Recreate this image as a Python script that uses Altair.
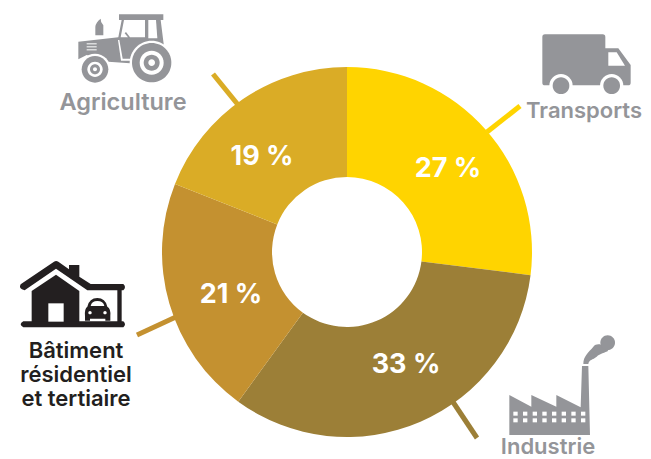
import altair as alt
import pandas as pd

categories = ["Transports", "Industrie", "Bâtiment résidentiel et tertiaire", "Agriculture"]
shares = [27, 33, 21, 19]
share_labels = ["27 %", "33 %", "21 %", "19 %"]
slice_colors = ["#FFD400", "#9C7F37", "#C49130", "#DAAC26"]

GREY = "#949599"
DARK = "#231F20"
WHITE = "#FFFFFF"
FONT = "Inter"

W, H = 635, 451
xs = alt.Scale(domain=[8, 8 + W], nice=False, zero=False)
ys = alt.Scale(domain=[8 + H, 8], nice=False, zero=False)
X = alt.X("x:Q", scale=xs, axis=None)
Y = alt.Y("y:Q", scale=ys, axis=None)


def disc(cx, cy, r):
    return f"M{cx-r} {cy}A{r} {r} 0 1 0 {cx+r} {cy}A{r} {r} 0 1 0 {cx-r} {cy}Z"


def box(x0, y0, x1, y1):
    return f"M{x0} {y0}L{x1} {y0}L{x1} {y1}L{x0} {y1}Z"


# Pictograms: (crop origin x, y, [(fill, path), ...]); paths are in 3x pixels of that origin
tractor = (50, 0, [
    (GREY, "M207 43L340 43L340 60L332 60L341 132L341 165L240 190L175 185L110 165L85 178L85 125L205 112L215 60L207 60Z"),
    (GREY, "M136 106L136 80Q138 66 152 56Q151 66 160 76L160 106Z"),
    (WHITE, "M222 60L285 60L285 112L240 112L228 96L224 100L234 112L212 112Z"),
    (WHITE, "M295 60L318 60L322 115L295 115Z"),
    (WHITE, "M204 120L208 120L218 176L246 176L246 182L213 182Z"),
    (WHITE, box(110, 130, 140, 133)), (WHITE, box(110, 139, 140, 142)), (WHITE, box(110, 148, 140, 151)),
    (WHITE, disc(135, 208, 47)), (WHITE, disc(305, 188, 66)),
    (GREY, disc(135, 208, 40)), (WHITE, disc(135, 208, 23)), (GREY, disc(135, 208, 15)), (WHITE, disc(135, 208, 6)),
    (GREY, disc(305, 188, 59)), (WHITE, disc(305, 188, 36)), (GREY, disc(305, 188, 24)), (WHITE, disc(305, 188, 10)),
])
truck = (500, 20, [
    (GREY, "M135 43L308 43Q316 43 316 51L316 85L355 85L392 135L392 188Q392 196 384 196L135 196Q127 196 127 188L127 51Q127 43 135 43Z"),
    (WHITE, "M325 97L350 97L375 137L325 137Z"),
    (WHITE, disc(183, 197, 35)), (WHITE, disc(335, 197, 35)),
    (GREY, disc(183, 197, 25)), (GREY, disc(335, 197, 25)),
])
house = (0, 250, [
    (DARK, "M62 103L162 35Q168 31 175 35L207 58L207 45L238 45L238 80L272 102L370 102Q380 111 370 121L262 121L168 56L74 121Q54 116 62 103Z"),
    (DARK, "M95 123L168 74L238 123L238 218L95 218Z"),
    (DARK, box(352, 118, 365, 218)),
    (DARK, "M70 214L370 214Q380 223 370 232L70 232Q54 223 70 214Z"),
    (WHITE, box(145, 160, 191, 215)),
    (DARK, "M262 170Q268 144 292 144Q316 144 322 170Q333 176 331 198L331 212L316 212L316 206L270 206L270 212L255 212L255 198Q253 176 262 170Z"),
    (WHITE, "M272 168Q275 153 292 153Q310 153 313 168Z"),
    (WHITE, disc(270, 188, 5)), (WHITE, disc(315, 188, 5)),
])
windows = [(WHITE, box(cx, cy, cx + 13, cy + 12))
           for cx in (220, 249, 278, 307, 336, 365, 394, 423) for cy in (245, 265)]
factory = (440, 330, [
    (GREY, "M208 195L274 230L274 195L349 230L349 195L422 232L426 108L445 108L450 315L208 315Z"),
    (GREY, "M430 102C430 78 445 68 460 50C468 40 482 42 490 48L505 62C495 68 480 70 470 80C458 90 447 88 445 102Z"),
    (GREY, disc(503, 38, 22)),
] + windows)

icon_rows = []
for ox, oy, parts in (tractor, truck, house, factory):
    for fill, path in parts:
        icon_rows.append({"x": ox, "y": oy, "fill": fill, "path": path})
icons = pd.DataFrame(icon_rows)

slices = pd.DataFrame({"cat": categories, "share": shares, "idx": range(4)})
arcs = alt.Chart(slices).mark_arc(outerRadius=185, innerRadius=75).encode(
    theta=alt.Theta("share:Q", stack=True, scale=alt.Scale(domain=[0, 100])),
    order=alt.Order("idx:Q"),
    color=alt.Color("cat:N", scale=alt.Scale(domain=categories, range=slice_colors), legend=None),
    x=alt.value(339),
    y=alt.value(244),
)

leaders = pd.DataFrame({
    "x": [487, 453, 178, 239],
    "y": [132, 402, 316, 106],
    "x2": [520, 477, 137, 213],
    "y2": [106, 438, 335, 74],
    "cat": categories,
})
leader_marks = alt.Chart(leaders).mark_rule(strokeWidth=5).encode(
    x=X, y=Y, x2="x2:Q", y2="y2:Q",
    color=alt.Color("cat:N", scale=alt.Scale(domain=categories, range=slice_colors), legend=None),
)

pict = alt.Chart(icons).mark_point(filled=True, size=4 / 9, opacity=1, strokeWidth=0).encode(
    x=X, y=Y,
    shape=alt.Shape("path:N", scale=None),
    color=alt.Color("fill:N", scale=None),
)

pct = pd.DataFrame({
    "x": [448, 406, 231, 262],
    "y": [169, 365, 295, 157],
    "t": share_labels,
})
pct_marks = alt.Chart(pct).mark_text(font=FONT, fontWeight="bold", fontSize=27, color="white", align="center", baseline="middle").encode(
    x=X, y=Y, text="t:N")

agri_label = pd.DataFrame({"x": [123], "y": [103], "t": ["Agriculture"]})
agri_mark = alt.Chart(agri_label).mark_text(font=FONT, fontWeight=600, fontSize=23.5, color=GREY, align="center", baseline="middle").encode(
    x=X, y=Y, text="t:N")

industry_label = pd.DataFrame({"x": [548], "y": [447], "t": ["Industrie"]})
industry_mark = alt.Chart(industry_label).mark_text(font=FONT, fontWeight=600, fontSize=22, color=GREY, align="center", baseline="middle").encode(
    x=X, y=Y, text="t:N")

transport_label = pd.DataFrame({"x": [642], "y": [111], "t": ["Transports"]})
transport_mark = alt.Chart(transport_label).mark_text(font=FONT, fontWeight=600, fontSize=22, color=GREY, align="right", baseline="middle").encode(
    x=X, y=Y, text="t:N")

dark_labels = pd.DataFrame({"x": [76, 76, 76], "y": [351, 375, 399], "t": ["Bâtiment", "résidentiel", "et tertiaire"]})
dark_marks = alt.Chart(dark_labels).mark_text(font=FONT, fontWeight=600, fontSize=22, color=DARK, align="center", baseline="middle").encode(
    x=X, y=Y, text="t:N")

chart = alt.layer(leader_marks, arcs, pict, pct_marks, agri_mark, industry_mark, transport_mark, dark_marks).resolve_scale(
    color="independent"
).properties(width=W, height=H, padding=0).configure_view(stroke=None)

chart.save("out.html", embed_options={"renderer": "svg", "actions": False})
